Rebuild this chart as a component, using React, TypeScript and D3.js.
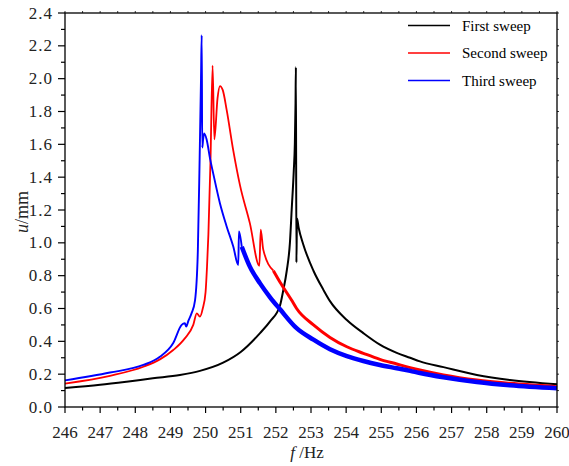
import React from 'react';
import * as d3 from 'd3';

// First sweep
const firstF = [246, 247, 247.75, 248.5, 249.27, 249.84, 250.5, 251, 251.55, 251.83, 252.12, 252.21, 252.31, 252.4, 252.45, 252.51, 252.54, 252.56, 252.57, 252.585, 252.6, 252.65, 252.78, 253.07, 253.35, 253.54, 254.02, 254.49, 254.96, 255.44, 255.82, 256.1, 256.77, 257.72, 258.66, 260];
const firstU = [0.116, 0.135, 0.154, 0.175, 0.195, 0.22, 0.27, 0.335, 0.45, 0.52, 0.62, 0.71, 0.83, 1.0, 1.2, 1.44, 1.6, 1.85, 2.07, 0.88, 1.15, 1.09, 0.99, 0.83, 0.715, 0.645, 0.53, 0.45, 0.38, 0.33, 0.3, 0.278, 0.243, 0.195, 0.164, 0.138];

// Second sweep
const secondF = [246, 247.28, 248.23, 248.7, 249.08, 249.41, 249.65, 249.75, 249.84, 249.92, 250.0, 250.04, 250.08, 250.14, 250.2, 250.25, 250.34, 250.41, 250.49, 250.6, 250.79, 250.98, 251.26, 251.53, 251.57, 251.64, 251.93, 252.12, 252.45, 252.59, 253.07, 253.54, 254.02, 254.49, 254.96, 255.44, 255.82, 256.1, 256.77, 257.72, 258.66, 260];
const secondU = [0.143, 0.19, 0.245, 0.29, 0.347, 0.418, 0.5, 0.57, 0.55, 0.6, 0.7, 0.85, 1.05, 1.5, 2.08, 1.63, 1.88, 1.955, 1.93, 1.81, 1.56, 1.35, 1.12, 0.86, 1.08, 0.96, 0.83, 0.76, 0.65, 0.6, 0.5, 0.424, 0.367, 0.327, 0.29, 0.262, 0.24, 0.225, 0.195, 0.164, 0.144, 0.124];

// Third sweep
const thirdF = [246, 247.28, 248.23, 248.7, 249.08, 249.32, 249.41, 249.45, 249.51, 249.6, 249.7, 249.78, 249.83, 249.87, 249.89, 249.905, 249.93, 249.96, 250.03, 250.13, 250.22, 250.41, 250.6, 250.79, 250.93, 250.95, 251.03, 251.26, 251.55, 251.83, 252.12, 252.59, 253.07, 253.54, 254.02, 254.49, 254.96, 255.44, 255.82, 256.1, 256.77, 257.72, 258.66, 260];
const thirdU = [0.162, 0.21, 0.256, 0.306, 0.39, 0.5, 0.51, 0.49, 0.525, 0.57, 0.65, 0.95, 1.5, 2.0, 2.265, 1.58, 1.63, 1.667, 1.63, 1.51, 1.42, 1.24, 1.1, 0.976, 0.865, 1.07, 0.976, 0.855, 0.753, 0.67, 0.595, 0.48, 0.41, 0.352, 0.31, 0.28, 0.256, 0.236, 0.22, 0.207, 0.181, 0.152, 0.132, 0.114];

const seriesNames = ['First sweep', 'Second sweep', 'Third sweep'];
const seriesColors = ['#000000', '#ff0000', '#0000ff'];

const xTicks = [246, 247, 248, 249, 250, 251, 252, 253, 254, 255, 256, 257, 258, 259, 260];
const yTicks = [0, 0.2, 0.4, 0.6, 0.8, 1.0, 1.2, 1.4, 1.6, 1.8, 2.0, 2.2, 2.4];

const W = 569;
const H = 466;
const L = 65, R = 557, T = 13, B = 407;
const FONT = '"Liberation Serif", "Times New Roman", serif';

type P = [number, number];

export default function App() {
  const x = d3.scaleLinear().domain([246, 260]).range([L, R]);
  const y = d3.scaleLinear().domain([0, 2.4]).range([B, T]);
  const line = d3.line<P>().x(d => x(d[0])).y(d => y(d[1])).curve(d3.curveMonotoneX);

  const zip = (f: number[], u: number[]): P[] => f.map((v, i) => [v, u[i]] as P);
  const first = zip(firstF, firstU);
  const second = zip(secondF, secondU);
  const third = zip(thirdF, thirdU);

  // split for stroke thickness (noisy tails appear thicker)
  const secondThin = second.filter(d => d[0] <= 251.93);
  const secondThick = second.filter(d => d[0] >= 251.93);
  const thirdThin = third.filter(d => d[0] <= 251.03);
  const thirdThick = third.filter(d => d[0] >= 251.03);

  const xMinor = d3.range(246, 260.01, 0.5);
  const yMinor = d3.range(0, 2.401, 0.1);

  return (
    <svg width={W} height={H} style={{ position: 'absolute', left: 0, top: 0, background: '#fff' }}>
      <rect x={0} y={0} width={W} height={H} fill="#fff" />
      {/* data */}
      <g fill="none" strokeLinejoin="round">
        <path d={line(first) || ''} stroke={seriesColors[0]} strokeWidth={2} />
        <path d={line(secondThin) || ''} stroke={seriesColors[1]} strokeWidth={1.8} />
        <path d={line(secondThick) || ''} stroke={seriesColors[1]} strokeWidth={3} />
        <path d={line(thirdThin) || ''} stroke={seriesColors[2]} strokeWidth={1.9} />
        <path d={line(thirdThick) || ''} stroke={seriesColors[2]} strokeWidth={4.5} />
      </g>
      {/* frame */}
      <rect x={L} y={T} width={R - L} height={B - T} fill="none" stroke="#000" strokeWidth={1.3} />
      {/* ticks */}
      <g stroke="#000" strokeWidth={1.2}>
        {xMinor.map((v, i) => (
          <line key={'xm' + i} x1={x(v)} x2={x(v)} y1={B} y2={B + (Math.abs(v - Math.round(v)) < 1e-6 ? 6 : 3.5)} />
        ))}
        {xMinor.map((v, i) => (
          <line key={'xt' + i} x1={x(v)} x2={x(v)} y1={T} y2={T - 2} strokeWidth={0.8} />
        ))}
        {yMinor.map((v, i) => (
          <line key={'ym' + i} x1={L} x2={L - (i % 2 === 0 ? 7 : 4)} y1={y(v)} y2={y(v)} />
        ))}
        {yMinor.map((v, i) => (
          <line key={'yr' + i} x1={R} x2={R + 2} y1={y(v)} y2={y(v)} strokeWidth={0.8} />
        ))}
      </g>
      <g fontFamily={FONT} fontSize={17} fill="#222">
        {xTicks.map(v => (
          <text key={'xl' + v} x={x(v)} y={438} textAnchor="middle">{v}</text>
        ))}
        {yTicks.map(v => (
          <text key={'yl' + v} x={53} y={y(v) + 5.5} textAnchor="end" letterSpacing={1}>{v.toFixed(1)}</text>
        ))}
      </g>
      {/* axis titles */}
      <text x={307} y={458} textAnchor="middle" fontFamily={FONT} fontSize={17} fill="#222">
        <tspan fontStyle="italic">f</tspan>
        <tspan>{' /Hz'}</tspan>
      </text>
      <text transform={`translate(28,${212}) rotate(-90)`} textAnchor="middle" fontFamily={FONT} fontSize={18} fill="#222">
        <tspan fontStyle="italic">u</tspan>
        <tspan>/mm</tspan>
      </text>
      {/* legend */}
      <g fontFamily={FONT} fontSize={15} fill="#000">
        {seriesNames.map((n, i) => (
          <g key={n}>
            <line x1={408} x2={450} y1={25.5 + i * 27.5} y2={25.5 + i * 27.5} stroke={seriesColors[i]} strokeWidth={1.5} />
            <text x={462} y={30.5 + i * 27.5}>{n}</text>
          </g>
        ))}
      </g>
    </svg>
  );
}
